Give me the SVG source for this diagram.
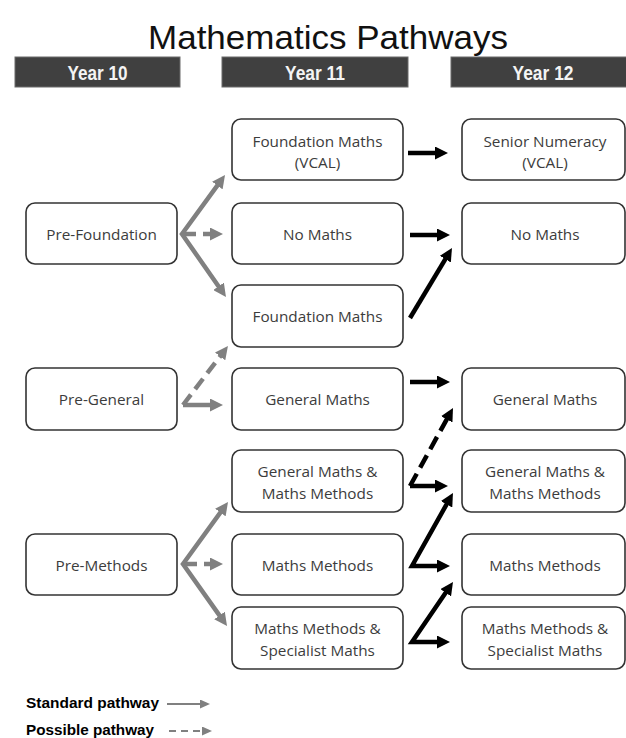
<svg xmlns="http://www.w3.org/2000/svg" width="626" height="738" viewBox="0 0 626 738">
<defs>
<style>
.title{font-family:"Liberation Sans",Arial,sans-serif;font-size:34px;fill:#111;}
.hbar{fill:#404040;stroke:#6a6a6a;stroke-width:1;}
.htxt{font-family:"Liberation Sans Narrow","Liberation Sans",Arial,sans-serif;font-weight:bold;font-size:20px;fill:#f4f4f4;text-anchor:middle;}
.box{fill:#fff;stroke:#333;stroke-width:1.6;}
.ntxt{font-family:"Open Sans","Noto Sans","Liberation Sans",sans-serif;font-size:15.3px;fill:#3c3c3c;text-anchor:middle;}
.g{fill:none;stroke:#808080;stroke-width:4.5;stroke-linejoin:miter;marker-end:url(#ag);}
.gs{marker-start:url(#ags);}
.k{fill:none;stroke:#000;stroke-width:4.5;stroke-linejoin:miter;marker-end:url(#ak);}
.ks{marker-start:url(#aks);}
.dg{stroke-dasharray:13 7;}
.dk{stroke-dasharray:14 7;}
.leg{font-family:"Liberation Sans",Arial,sans-serif;font-weight:bold;font-size:15.5px;fill:#000;}
.lg{fill:none;stroke:#808080;stroke-width:2;marker-end:url(#al);}
</style>
<marker id="ag" markerUnits="userSpaceOnUse" markerWidth="13" markerHeight="13" refX="4.5" refY="6.5" orient="auto"><path d="M0,0 L13,6.5 L0,13 z" fill="#808080"/></marker>
<marker id="ags" markerUnits="userSpaceOnUse" markerWidth="13" markerHeight="13" refX="4.5" refY="6.5" orient="auto-start-reverse"><path d="M0,0 L13,6.5 L0,13 z" fill="#808080"/></marker>
<marker id="ak" markerUnits="userSpaceOnUse" markerWidth="13" markerHeight="13" refX="4.5" refY="6.5" orient="auto"><path d="M0,0 L13,6.5 L0,13 z" fill="#000"/></marker>
<marker id="aks" markerUnits="userSpaceOnUse" markerWidth="13" markerHeight="13" refX="4.5" refY="6.5" orient="auto-start-reverse"><path d="M0,0 L13,6.5 L0,13 z" fill="#000"/></marker>
<marker id="al" markerUnits="userSpaceOnUse" markerWidth="10" markerHeight="9" refX="2" refY="4.5" orient="auto"><path d="M0,0 L10,4.5 L0,9 z" fill="#808080"/></marker>
</defs>
<rect width="626" height="738" fill="#fff"/>

<text class="title" x="328" y="49" text-anchor="middle" textLength="360" lengthAdjust="spacingAndGlyphs">Mathematics Pathways</text>

<g id="headers">
<rect class="hbar" x="15" y="57" width="165" height="30"/>
<text class="htxt" x="97.5" y="80" textLength="60" lengthAdjust="spacingAndGlyphs">Year 10</text>
<rect class="hbar" x="222" y="57" width="186" height="30"/>
<text class="htxt" x="315" y="80" textLength="60" lengthAdjust="spacingAndGlyphs">Year 11</text>
<rect class="hbar" x="451" y="57" width="186" height="30"/>
<text class="htxt" x="543" y="80" textLength="61" lengthAdjust="spacingAndGlyphs">Year 12</text>
</g>

<g id="pre-foundation"><rect class="box" x="26" y="203" width="151" height="61" rx="9"/><text class="ntxt" x="101.5" y="239.5">Pre-Foundation</text></g>
<g id="pre-general"><rect class="box" x="26" y="368" width="151" height="62" rx="9"/><text class="ntxt" x="101.5" y="405">Pre-General</text></g>
<g id="pre-methods"><rect class="box" x="26" y="534" width="151" height="61" rx="9"/><text class="ntxt" x="101.5" y="570.5">Pre-Methods</text></g>

<g id="y11-foundation-vcal"><rect class="box" x="232" y="119" width="171" height="61" rx="9"/><text class="ntxt" x="317.5" y="146.5">Foundation Maths</text><text class="ntxt" x="317.5" y="167.5">(VCAL)</text></g>
<g id="y11-no-maths"><rect class="box" x="232" y="203" width="171" height="61" rx="9"/><text class="ntxt" x="317.5" y="239.5">No Maths</text></g>
<g id="y11-foundation"><rect class="box" x="232" y="285" width="171" height="62" rx="9"/><text class="ntxt" x="317.5" y="322">Foundation Maths</text></g>
<g id="y11-general"><rect class="box" x="232" y="368" width="171" height="62" rx="9"/><text class="ntxt" x="317.5" y="405">General Maths</text></g>
<g id="y11-general-methods"><rect class="box" x="232" y="450" width="171" height="62" rx="9"/><text class="ntxt" x="317.5" y="477">General Maths &amp;</text><text class="ntxt" x="317.5" y="499">Maths Methods</text></g>
<g id="y11-methods"><rect class="box" x="232" y="534" width="171" height="61" rx="9"/><text class="ntxt" x="317.5" y="570.5">Maths Methods</text></g>
<g id="y11-methods-specialist"><rect class="box" x="232" y="607" width="171" height="62" rx="9"/><text class="ntxt" x="317.5" y="634">Maths Methods &amp;</text><text class="ntxt" x="317.5" y="656">Specialist Maths</text></g>

<g id="y12-senior-numeracy"><rect class="box" x="462" y="119" width="163" height="61" rx="9"/><text class="ntxt" x="545" y="146.5">Senior Numeracy</text><text class="ntxt" x="545" y="167.5">(VCAL)</text></g>
<g id="y12-no-maths"><rect class="box" x="462" y="203" width="163" height="61" rx="9"/><text class="ntxt" x="545" y="239.5">No Maths</text></g>
<g id="y12-general"><rect class="box" x="462" y="368" width="163" height="62" rx="9"/><text class="ntxt" x="545" y="405">General Maths</text></g>
<g id="y12-general-methods"><rect class="box" x="462" y="450" width="163" height="62" rx="9"/><text class="ntxt" x="545" y="477">General Maths &amp;</text><text class="ntxt" x="545" y="499">Maths Methods</text></g>
<g id="y12-methods"><rect class="box" x="462" y="534" width="163" height="61" rx="9"/><text class="ntxt" x="545" y="570.5">Maths Methods</text></g>
<g id="y12-methods-specialist"><rect class="box" x="462" y="607" width="163" height="62" rx="9"/><text class="ntxt" x="545" y="634">Maths Methods &amp;</text><text class="ntxt" x="545" y="656">Specialist Maths</text></g>

<g id="connectors">
<path class="g gs" d="M220,181.9 L182,234 L221.1,290"/>
<path class="g dg" d="M183,234 L214.5,234"/>
<path class="g dg" d="M183,405 L222.8,352.8"/>
<path class="g" d="M183,405 L214.5,405"/>
<path class="g gs" d="M223,508.9 L183,564 L222.1,619.1"/>
<path class="g dg" d="M184,564 L214.5,564"/>

<path class="k" d="M408,153 L439.5,153"/>
<path class="k" d="M410,235 L441.5,235"/>
<path class="k" d="M410,318 L447.6,255.3"/>
<path class="k" d="M410,382 L441.5,382"/>
<path class="k dk" d="M410,486 L448.9,415.4"/>
<path class="k" d="M410,486 L439.5,486"/>
<path class="k ks" d="M448.8,500.4 L412,566 L441.5,566"/>
<path class="k ks" d="M448.2,589 L412,642 L441.5,642"/>
</g>

<g id="legend">
<text class="leg" x="26" y="708" textLength="133" lengthAdjust="spacingAndGlyphs">Standard pathway</text>
<path class="lg" d="M167,704 L202,704"/>
<text class="leg" x="26" y="735" textLength="128" lengthAdjust="spacingAndGlyphs">Possible pathway</text>
<path class="lg" d="M169,731 L204,731" stroke-dasharray="7 5"/>
</g>
</svg>
